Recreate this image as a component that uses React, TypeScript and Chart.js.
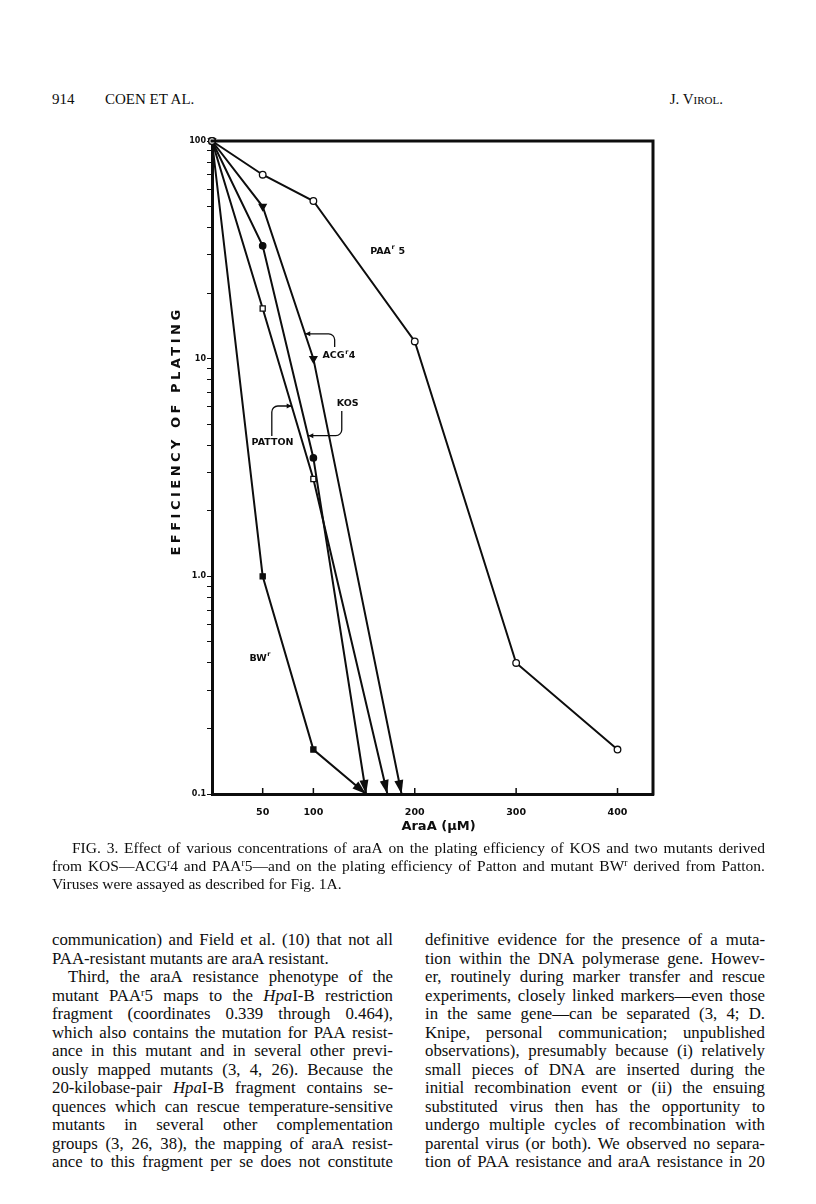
import React, { useEffect, useRef } from "react";
import { Chart, registerables } from "chart.js";

Chart.register(...registerables);

// ---------------- chart data ----------------
const paaDoses = [0, 50, 100, 200, 300, 400];
const paaR5 = [100, 70, 53, 12, 0.4, 0.16];
const acgDoses = [0, 50, 100, 187];
const acgR4 = [100, 50, 10, 0.1];
const kosDoses = [0, 50, 100, 152];
const kosValues = [100, 33, 3.5, 0.1];
const pattonDoses = [0, 50, 100, 173];
const pattonValues = [100, 17, 2.8, 0.1];
const bwDoses = [0, 50, 100, 152];
const bwR = [100, 1.0, 0.16, 0.1];

const xTickValues = [50, 100, 200, 300, 400];
const yMajorValues = [0.1, 1, 10, 100];
const yMajorLabels = ["0.1", "1.0", "10", "100"];
const yMinorFactors = [2, 3, 4, 5, 6, 7, 8, 9];

// series name labels (anchored in data coordinates: dose, efficiency)
const labelNames = ["PAA", "ACG", "KOS", "PATTON", "BW"];
const labelSups = ["r", "r", "", "", "r"];
const labelTails = [" 5", "4", "", "", ""];
const labelDoses = [156, 109, 123, 39, 37];
const labelEff = [31, 10.3, 6.2, 4.1, 0.42];

// leader brackets from labels to curves (data coordinates)
const acgBracket = [[121, 11.3], [121, 13.0], [92, 13.0]];
const kosBracket = [[128, 5.75], [128, 4.43], [95, 4.43]];
const pattonBracket = [[59, 4.41], [59, 6.06], [78.6, 6.06]];

const INK = "#0d0d0d";
const CHART_FONT = "'DejaVu Sans', 'Liberation Sans', sans-serif";

const pts = (xs: number[], ys: number[]) => xs.map((x, i) => ({ x, y: ys[i] }));

const pagePlugin = {
  id: "pageDecor",
  afterDatasetsDraw(chart: any) {
    const { ctx } = chart;
    chart.data.datasets.forEach((ds: any, i: number) => {
      if (!ds.arrow) return;
      const meta = chart.getDatasetMeta(i);
      const n = meta.data.length;
      const p1 = meta.data[n - 2];
      const p2 = meta.data[n - 1];
      const ang = Math.atan2(p2.y - p1.y, p2.x - p1.x);
      const L = 14;
      const W = 4.5;
      ctx.save();
      ctx.fillStyle = INK;
      ctx.beginPath();
      ctx.moveTo(p2.x, p2.y);
      ctx.lineTo(p2.x - L * Math.cos(ang) + W * Math.sin(ang), p2.y - L * Math.sin(ang) - W * Math.cos(ang));
      ctx.lineTo(p2.x - L * Math.cos(ang) - W * Math.sin(ang), p2.y - L * Math.sin(ang) + W * Math.cos(ang));
      ctx.closePath();
      ctx.fill();
      ctx.restore();
    });
  },
  afterDraw(chart: any) {
    const { ctx, chartArea } = chart;
    const xs = chart.scales.x;
    const ys = chart.scales.y;
    const { left, right, top, bottom } = chartArea;
    ctx.save();
    ctx.strokeStyle = INK;
    ctx.fillStyle = INK;

    // top + right frame
    ctx.lineWidth = 3;
    ctx.beginPath();
    ctx.moveTo(left - 1.5, top);
    ctx.lineTo(right, top);
    ctx.lineTo(right, bottom + 1.5);
    ctx.stroke();

    // inward x ticks
    ctx.lineWidth = 1.5;
    xTickValues.forEach((v) => {
      const px = xs.getPixelForValue(v);
      ctx.beginPath();
      ctx.moveTo(px, bottom);
      ctx.lineTo(px, bottom - 6);
      ctx.stroke();
    });

    // series labels
    ctx.textBaseline = "middle";
    ctx.textAlign = "left";
    const mainFont = `bold 9.5px ${CHART_FONT}`;
    const supFont = `bold 6.5px ${CHART_FONT}`;
    labelNames.forEach((name, i) => {
      const px = xs.getPixelForValue(labelDoses[i]);
      const py = ys.getPixelForValue(labelEff[i]);
      ctx.font = mainFont;
      ctx.fillText(name, px, py);
      let w = ctx.measureText(name).width;
      if (labelSups[i]) {
        ctx.font = supFont;
        ctx.fillText(labelSups[i], px + w + 0.5, py - 4);
        w += ctx.measureText(labelSups[i]).width + 1;
        ctx.font = mainFont;
      }
      if (labelTails[i]) ctx.fillText(labelTails[i], px + w, py);
    });

    // brackets
    const drawBracket = (b: number[][]) => {
      const p = b.map((d) => [xs.getPixelForValue(d[0]), ys.getPixelForValue(d[1])]);
      ctx.lineWidth = 1.3;
      ctx.beginPath();
      ctx.moveTo(p[0][0], p[0][1]);
      ctx.arcTo(p[1][0], p[1][1], p[2][0], p[2][1], 6);
      ctx.lineTo(p[2][0], p[2][1]);
      ctx.stroke();
      const ang = Math.atan2(p[2][1] - p[1][1], p[2][0] - p[1][0]);
      const L = 5;
      const W = 2.5;
      ctx.beginPath();
      ctx.moveTo(p[2][0], p[2][1]);
      ctx.lineTo(p[2][0] - L * Math.cos(ang) + W * Math.sin(ang), p[2][1] - L * Math.sin(ang) - W * Math.cos(ang));
      ctx.lineTo(p[2][0] - L * Math.cos(ang) - W * Math.sin(ang), p[2][1] - L * Math.sin(ang) + W * Math.cos(ang));
      ctx.closePath();
      ctx.fill();
    };
    drawBracket(acgBracket);
    drawBracket(kosBracket);
    drawBracket(pattonBracket);

    // y axis title (letter spaced)
    ctx.save();
    ctx.translate(left - 35, top + 290);
    ctx.rotate(-Math.PI / 2);
    ctx.font = `bold 13px ${CHART_FONT}`;
    (ctx as any).letterSpacing = "3.5px";
    ctx.textAlign = "center";
    ctx.textBaseline = "middle";
    ctx.fillText("EFFICIENCY OF PLATING", 0, 0);
    ctx.restore();

    // x axis title
    ctx.font = `bold 13px ${CHART_FONT}`;
    ctx.textAlign = "center";
    ctx.textBaseline = "middle";
    ctx.fillText("AraA (\u03BCM)", (left + right) / 2 + 6, bottom + 33);
    ctx.restore();
  },
};

// ---------------- page text ----------------
const serif = "'Liberation Serif', 'Times New Roman', serif";
const supStyle: React.CSSProperties = { fontSize: "0.62em", verticalAlign: "0.5em", lineHeight: 0 };

function renderWord(w: string, key: number) {
  const parts: React.ReactNode[] = [];
  let buf = "";
  let italic = false;
  let k = 0;
  const flush = () => {
    if (buf) {
      parts.push(italic ? <i key={k++}>{buf}</i> : <span key={k++}>{buf}</span>);
      buf = "";
    }
  };
  for (let i = 0; i < w.length; i++) {
    const ch = w[i];
    if (ch === "*") {
      flush();
      italic = !italic;
      continue;
    }
    if (ch === "^") {
      flush();
      parts.push(
        <sup key={k++} style={supStyle}>
          {w[i + 1]}
        </sup>
      );
      i++;
      continue;
    }
    buf += ch;
  }
  flush();
  return <span key={key}>{parts}</span>;
}

function TextLine(props: { text: string; justify: boolean; indent?: number; lh: number }) {
  const words = props.text.split(" ");
  return (
    <div
      style={{
        display: "flex",
        justifyContent: props.justify ? "space-between" : "flex-start",
        columnGap: props.justify ? "0.16em" : "0.25em",
        paddingLeft: props.indent || 0,
        height: props.lh,
        lineHeight: props.lh + "px",
        whiteSpace: "nowrap",
      }}
    >
      {words.map(renderWord)}
    </div>
  );
}

const captionLines = [
  "FIG. 3. Effect of various concentrations of araA on the plating efficiency of KOS and two mutants derived",
  "from KOS\u2014ACG^r4 and PAA^r5\u2014and on the plating efficiency of Patton and mutant BW^r derived from Patton.",
  "Viruses were assayed as described for Fig. 1A.",
];

const leftLines = [
  "communication) and Field et al. (10) that not all",
  "PAA-resistant mutants are araA resistant.",
  "Third, the araA resistance phenotype of the",
  "mutant PAA^r5 maps to the *Hpa*I-B restriction",
  "fragment (coordinates 0.339 through 0.464),",
  "which also contains the mutation for PAA resist-",
  "ance in this mutant and in several other previ-",
  "ously mapped mutants (3, 4, 26). Because the",
  "20-kilobase-pair *Hpa*I-B fragment contains se-",
  "quences which can rescue temperature-sensitive",
  "mutants in several other complementation",
  "groups (3, 26, 38), the mapping of araA resist-",
  "ance to this fragment per se does not constitute",
];

const rightLines = [
  "definitive evidence for the presence of a muta-",
  "tion within the DNA polymerase gene. Howev-",
  "er, routinely during marker transfer and rescue",
  "experiments, closely linked markers\u2014even those",
  "in the same gene\u2014can be separated (3, 4; D.",
  "Knipe, personal communication; unpublished",
  "observations), presumably because (i) relatively",
  "small pieces of DNA are inserted during the",
  "initial recombination event or (ii) the ensuing",
  "substituted virus then has the opportunity to",
  "undergo multiple cycles of recombination with",
  "parental virus (or both). We observed no separa-",
  "tion of PAA resistance and araA resistance in 20",
];

export default function App() {
  const ref = useRef<HTMLCanvasElement>(null);

  useEffect(() => {
    if (!ref.current) return;
    const markerR = (r: number, arrow: boolean) => (c: any) =>
      arrow && c.dataIndex === c.dataset.data.length - 1 ? 0 : r;
    const base = {
      borderColor: INK,
      borderWidth: 2,
      pointBorderColor: INK,
      pointBorderWidth: 1.3,
      clip: false,
      tension: 0,
      fill: false,
    };
    const yAll: number[] = [];
    [0.1, 1, 10].forEach((d) => {
      yAll.push(d);
      yMinorFactors.forEach((f) => yAll.push(Number((d * f).toPrecision(3))));
    });
    yAll.push(100);

    const chart = new Chart(ref.current, {
      type: "line",
      data: {
        datasets: [
          {
            ...base,
            label: "PAAr5",
            data: pts(paaDoses, paaR5),
            pointStyle: "circle",
            pointRadius: 3.3,
            pointBackgroundColor: "#fff",
            arrow: false,
          },
          {
            ...base,
            label: "ACGr4",
            data: pts(acgDoses, acgR4),
            pointStyle: "triangle",
            rotation: 180,
            pointRadius: markerR(4, true),
            pointBackgroundColor: INK,
            arrow: true,
          },
          {
            ...base,
            label: "KOS",
            data: pts(kosDoses, kosValues),
            pointStyle: "circle",
            pointRadius: markerR(3.2, true),
            pointBackgroundColor: INK,
            arrow: true,
          },
          {
            ...base,
            label: "Patton",
            data: pts(pattonDoses, pattonValues),
            pointStyle: "rect",
            pointRadius: markerR(3.6, true),
            pointBackgroundColor: "#fff",
            arrow: true,
          },
          {
            ...base,
            label: "BWr",
            data: pts(bwDoses, bwR),
            pointStyle: "rect",
            pointRadius: markerR(3.6, true),
            pointBackgroundColor: INK,
            arrow: true,
          },
        ] as any,
      },
      options: {
        animation: false,
        responsive: false,
        layout: { padding: { top: 31, right: 17, left: 0, bottom: 0 } },
        plugins: { legend: { display: false }, tooltip: { enabled: false } },
        scales: {
          x: {
            type: "linear",
            min: 0,
            max: 435,
            afterBuildTicks: (s: any) => {
              s.ticks = xTickValues.map((v) => ({ value: v }));
            },
            afterFit: (s: any) => {
              s.height = 66;
            },
            grid: { display: false },
            border: { display: true, color: INK, width: 3 },
            ticks: {
              autoSkip: false,
              maxRotation: 0,
              padding: 5,
              color: INK,
              font: { family: CHART_FONT, size: 9.5, weight: "bold" },
              callback: (v: any) => String(v),
            },
          },
          y: {
            type: "logarithmic",
            min: 0.1,
            max: 100,
            afterBuildTicks: (s: any) => {
              s.ticks = yAll.map((v) => ({ value: v }));
            },
            afterFit: (s: any) => {
              s.width = 62;
            },
            grid: { display: true, drawOnChartArea: false, drawTicks: true, tickLength: 5, color: INK, lineWidth: 1 },
            border: { display: true, color: INK, width: 3 },
            ticks: {
              autoSkip: false,
              padding: 1,
              color: INK,
              font: { family: CHART_FONT, size: 8, weight: "bold" },
              callback: (v: any) => {
                const i = yMajorValues.indexOf(Number(v));
                return i >= 0 ? yMajorLabels[i] : "";
              },
            },
          },
        },
      } as any,
      plugins: [pagePlugin],
    });
    return () => chart.destroy();
  }, []);

  const bodyLH = 18.5;
  return (
    <div
      style={{
        position: "absolute",
        left: 0,
        top: 0,
        width: 816,
        height: 1204,
        background: "#fff",
        overflow: "hidden",
        color: INK,
        fontFamily: serif,
      }}
    >
      {/* running head */}
      <div style={{ position: "absolute", left: 52, top: 90, fontSize: 15, lineHeight: "18px" }}>914</div>
      <div style={{ position: "absolute", left: 105, top: 90, fontSize: 15, lineHeight: "18px" }}>COEN ET AL.</div>
      <div
        style={{
          position: "absolute",
          right: 816 - 723,
          top: 90,
          fontSize: 15,
          lineHeight: "18px",
          fontVariant: "small-caps",
        }}
      >
        J. Virol.
      </div>

      <canvas
        ref={ref}
        width={520}
        height={750}
        style={{ position: "absolute", left: 150, top: 110, width: 520, height: 750 }}
      />

      {/* caption */}
      <div style={{ position: "absolute", left: 52, top: 839, width: 713, fontSize: 15.5 }}>
        {captionLines.map((t, i) => (
          <TextLine key={i} text={t} justify={i < 2} indent={i === 0 ? 20 : 0} lh={18} />
        ))}
      </div>

      {/* body text */}
      <div style={{ position: "absolute", left: 52, top: 931, width: 341, fontSize: 16.8 }}>
        {leftLines.map((t, i) => (
          <TextLine key={i} text={t} justify={i !== 1} indent={i === 2 ? 16 : 0} lh={bodyLH} />
        ))}
      </div>
      <div style={{ position: "absolute", left: 425, top: 931, width: 340, fontSize: 16.8 }}>
        {rightLines.map((t, i) => (
          <TextLine key={i} text={t} justify={true} lh={bodyLH} />
        ))}
      </div>
    </div>
  );
}
